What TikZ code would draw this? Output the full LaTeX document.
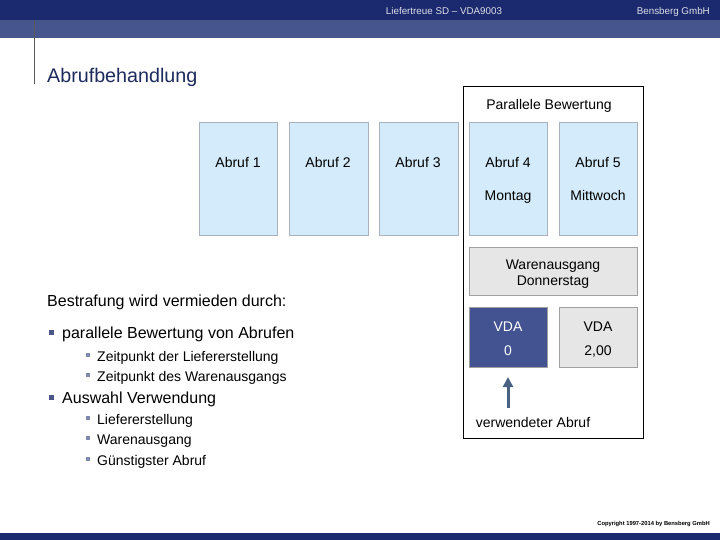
\documentclass[tikz,border=0pt]{standalone}
\usepackage{fontspec}
\setmainfont{Liberation Sans}
\usetikzlibrary{arrows.meta}
\definecolor{navy}{HTML}{1B2A6E}
\definecolor{band}{HTML}{47558E}
\definecolor{lblue}{HTML}{D3EBFB}
\definecolor{lborder}{HTML}{A9B2BA}
\definecolor{lgray}{HTML}{E6E6E6}
\definecolor{gborder}{HTML}{A0A0A0}
\definecolor{dbox}{HTML}{435290}
\definecolor{arrowc}{HTML}{4A6282}
\definecolor{bulletc}{HTML}{4A5788}
\definecolor{titlec}{HTML}{1C2A5C}
\tikzset{
  fixh/.style={text height=0.72em, text depth=0em, yshift=-2.5pt},
  bluebox/.style={draw=lborder, fill=lblue, line width=0.8pt},
  graybox/.style={draw=gborder, fill=lgray, line width=0.8pt},
  darkbox/.style={draw=gborder, fill=dbox, line width=0.8pt},
  boxtxt/.style={font=\fontsize{14}{16}\selectfont, inner sep=0pt, fixh},
  lvlone/.style={anchor=west, font=\fontsize{16}{18}\selectfont, inner sep=0pt, fixh},
  lvltwo/.style={anchor=west, font=\fontsize{14}{16}\selectfont, inner sep=0pt, fixh},
  hdrtxt/.style={text=white!85!navy, font=\fontsize{9.8}{11}\selectfont, inner sep=0pt, text height=0.72em, text depth=0em, yshift=-1pt},
}
\begin{document}
\begin{tikzpicture}[x=1pt,y=-1pt]
\useasboundingbox (0,0) rectangle (720,540);
% header
\fill[navy] (0,0) rectangle (720,20);
\fill[band] (0,20) rectangle (720,38);
\fill[navy] (0,533) rectangle (720,540);
\draw[gray!70!black, line width=0.8pt] (34,20) -- (34,84);
\node[hdrtxt] (hdr) at (444,10) {Liefertreue SD – VDA9003};
\node[hdrtxt, anchor=east] (hco) at (710,10) {Bensberg GmbH};
\node[anchor=west, text=titlec, font=\fontsize{19.7}{22}\selectfont, inner sep=0pt, fixh, yshift=-0.5pt] (title) at (47,76) {Abrufbehandlung};
% frame
\draw[black, line width=0.8pt] (463,86) rectangle (643,438);
\node[boxtxt] (pb) at (549,103) {Parallele Bewertung};
% Abruf boxes
\draw[bluebox] (199,122) rectangle (277,235);
\draw[bluebox] (289,122) rectangle (368,235);
\draw[bluebox] (379,122) rectangle (458,235);
\draw[bluebox] (469,122) rectangle (547,235);
\draw[bluebox] (559,122) rectangle (637,235);
\node[boxtxt] (a1) at (238,161) {Abruf 1};
\node[boxtxt] (a2) at (328,161) {Abruf 2};
\node[boxtxt] (a3) at (418,161) {Abruf 3};
\node[boxtxt] (a4) at (508,161) {Abruf 4};
\node[boxtxt] (a5) at (598,161) {Abruf 5};
\node[boxtxt] (mo) at (508,194) {Montag};
\node[boxtxt] (mi) at (598,194) {Mittwoch};
% Warenausgang
\draw[graybox] (469,247) rectangle (637,295);
\node[boxtxt] (wa1) at (553,263) {Warenausgang};
\node[boxtxt] (wa2) at (553,279) {Donnerstag};
% VDA boxes
\draw[darkbox] (469,307) rectangle (547,367);
\draw[graybox] (559,307) rectangle (637,367);
\node[boxtxt, text=white] (v1) at (508,325) {VDA};
\node[boxtxt, text=white] (z1) at (508,349) {0};
\node[boxtxt] (v2) at (598,325) {VDA};
\node[boxtxt] (z2) at (598,349) {2,00};
\coordinate (arrS) at (508,408);
\coordinate (arrE) at (508,377);
\draw[arrowc, line width=3pt, -{Triangle[length=10pt,width=10pt]}] (arrS) -- (arrE);
\node[boxtxt] (used) at (533,421) {verwendeter Abruf};
% text list
\node[lvlone] (bs) at (47,300) {Bestrafung wird vermieden durch:};
\fill[bulletc] (49,330) rectangle (54,335);
\node[lvlone] (l1) at (62,332) {parallele Bewertung von Abrufen};
\fill[bulletc!70] (86,353) rectangle (90,357);
\node[lvltwo] (l11) at (97,355) {Zeitpunkt der Liefererstellung};
\fill[bulletc!70] (86,373) rectangle (90,377);
\node[lvltwo] (l12) at (97,375) {Zeitpunkt des Warenausgangs};
\fill[bulletc] (49,395) rectangle (54,400);
\node[lvlone] (l2) at (62,397) {Auswahl Verwendung};
\fill[bulletc!70] (86,416) rectangle (90,420);
\node[lvltwo] (l21) at (97,418) {Liefererstellung};
\fill[bulletc!70] (86,436) rectangle (90,440);
\node[lvltwo] (l22) at (97,438) {Warenausgang};
\fill[bulletc!70] (86,457) rectangle (90,461);
\node[lvltwo] (l23) at (97,459) {Günstigster Abruf};
% copyright
\node[anchor=east, font=\bfseries\fontsize{5.8}{7}\selectfont, inner sep=0pt, text height=0.72em, text depth=0em] (copy) at (710,522) {Copyright 1997-2014 by Bensberg GmbH};
\end{tikzpicture}
\end{document}
